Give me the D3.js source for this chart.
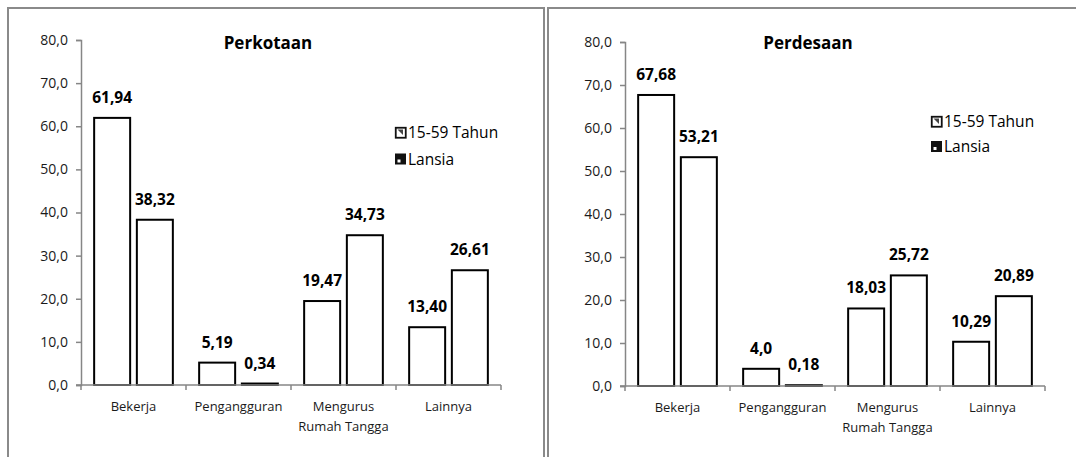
<!DOCTYPE html>
<html>
<head>
<meta charset="utf-8">
<script src="https://cdn.jsdelivr.net/npm/d3@7/dist/d3.min.js"></script>
<style>
  html, body { margin: 0; padding: 0; background: #fff; }
  svg { display: block; }
  text { font-family: "Open Sans", "Noto Sans", sans-serif; }
</style>
</head>
<body>
<svg id="chart" width="1076" height="457"></svg>
<script>
// Status kegiatan utama penduduk (%), perkotaan dan perdesaan
const categories = ["Bekerja", "Pengangguran", "Mengurus Rumah Tangga", "Lainnya"];
const categoryLines = [["Bekerja"], ["Pengangguran"], ["Mengurus", "Rumah Tangga"], ["Lainnya"]];
const seriesNames = ["15-59 Tahun", "Lansia"];

const urbanYouth = [61.94, 5.19, 19.47, 13.40];
const urbanElderly = [38.32, 0.34, 34.73, 26.61];
const ruralYouth = [67.68, 4.0, 18.03, 10.29];
const ruralElderly = [53.21, 0.18, 25.72, 20.89];

// number of decimals shown in each value label
const urbanYouthDecimals = [2, 2, 2, 2];
const urbanElderlyDecimals = [2, 2, 2, 2];
const ruralYouthDecimals = [2, 1, 2, 2];
const ruralElderlyDecimals = [2, 2, 2, 2];

const yTicks = [0, 10, 20, 30, 40, 50, 60, 70, 80];

const panels = [
  { title: "Perkotaan", series: [urbanYouth, urbanElderly], decimals: [urbanYouthDecimals, urbanElderlyDecimals],
    frame: { x: 8, y: 8, w: 536, h: 470 }, plot: { x0: 81, x1: 501, yTop: 40, yBottom: 385 },
    titleX: 268, legendX: 395, legendY: 133, legendGap: 26.5 },
  { title: "Perdesaan", series: [ruralYouth, ruralElderly], decimals: [ruralYouthDecimals, ruralElderlyDecimals],
    frame: { x: 548, y: 8, w: 540, h: 470 }, plot: { x0: 625, x1: 1045, yTop: 42, yBottom: 386 },
    titleX: 808, legendX: 931, legendY: 122, legendGap: 25 }
];

const svg = d3.select("#chart");
const axisGray = "#868686";
const fmt = (v, d) => v.toFixed(d).replace(".", ",");

panels.forEach(p => {
  const g = svg.append("g");

  // panel frame
  g.append("rect")
    .attr("x", p.frame.x).attr("y", p.frame.y)
    .attr("width", p.frame.w).attr("height", p.frame.h)
    .attr("fill", "none").attr("stroke", "#8a8a8a").attr("stroke-width", 2);

  const x = d3.scaleBand().domain(categories).range([p.plot.x0, p.plot.x1]).padding(0);
  const xs = d3.scaleBand().domain(seriesNames).range([0, x.bandwidth()])
    .paddingInner(0.157).paddingOuter(0.308);
  const y = d3.scaleLinear().domain([0, 80]).range([p.plot.yBottom, p.plot.yTop]);

  // y axis
  const yAxis = g.append("g")
    .attr("transform", `translate(${p.plot.x0},0)`)
    .call(d3.axisLeft(y).tickValues(yTicks).tickFormat(d => fmt(d, 1)).tickSize(5).tickPadding(8));
  yAxis.select(".domain").attr("stroke", axisGray).attr("stroke-width", 1.5);
  yAxis.selectAll(".tick line").attr("stroke", axisGray).attr("stroke-width", 1.5);
  yAxis.selectAll(".tick text").attr("fill", "#1a1a1a").style("font-size", "14px")
    .style("font-family", "'Open Sans', sans-serif");

  // bars
  p.series.forEach((vals, si) => {
    g.append("g").selectAll("rect")
      .data(vals)
      .join("rect")
      .attr("x", (d, i) => x(categories[i]) + xs(seriesNames[si]))
      .attr("y", d => y(d))
      .attr("width", xs.bandwidth())
      .attr("height", d => y(0) - y(d))
      .attr("fill", "#fff").attr("stroke", "#000").attr("stroke-width", 2);

    g.append("g").selectAll("text")
      .data(vals)
      .join("text")
      .attr("x", (d, i) => x(categories[i]) + xs(seriesNames[si]) + xs.bandwidth() / 2)
      .attr("y", d => y(d) - 15)
      .attr("text-anchor", "middle")
      .attr("font-weight", "bold").attr("font-size", 15.5).attr("fill", "#000")
      .text((d, i) => fmt(d, p.decimals[si][i]));
  });

  // x axis line with ticks at category boundaries
  const xAxis = g.append("g")
    .attr("transform", `translate(0,${y(0)})`)
    .call(d3.axisBottom(x).tickSize(0).tickFormat(""));
  xAxis.select(".domain").attr("stroke", axisGray).attr("stroke-width", 1.5)
    .attr("d", `M${p.plot.x0 - 5},0H${p.plot.x1}`);
  const bounds = categories.map(c => x(c)).concat([x(categories[categories.length - 1]) + x.bandwidth()]);
  xAxis.selectAll(".bound").data(bounds).join("line")
    .attr("x1", d => d).attr("x2", d => d).attr("y1", 0).attr("y2", 5)
    .attr("stroke", axisGray).attr("stroke-width", 1.5);

  // category labels
  g.append("g").selectAll("text")
    .data(categoryLines)
    .join("text")
    .attr("x", (d, i) => x(categories[i]) + x.bandwidth() / 2)
    .attr("y", y(0) + 26)
    .attr("text-anchor", "middle")
    .attr("font-size", 13).attr("fill", "#1a1a1a")
    .each(function (lines) {
      const t = d3.select(this);
      lines.forEach((ln, k) => {
        t.append("tspan").attr("x", t.attr("x")).attr("dy", k === 0 ? 0 : 19.5).text(ln);
      });
    });

  // title
  g.append("text")
    .attr("x", p.titleX).attr("y", 49)
    .attr("text-anchor", "middle")
    .attr("font-weight", "bold").attr("font-size", 17).attr("fill", "#000")
    .text(p.title);

  // legend
  const leg = g.append("g").attr("transform", `translate(${p.legendX},${p.legendY})`);
  seriesNames.forEach((name, i) => {
    const row = leg.append("g").attr("transform", `translate(0,${i * p.legendGap})`);
    if (i === 0) {
      row.append("rect").attr("x", 0.75).attr("y", -5.25).attr("width", 10).attr("height", 10)
        .attr("fill", "#fff").attr("stroke", "#111").attr("stroke-width", 1.8);
      row.append("path").attr("d", "M2.5,-3.5 L8,-3.5 L8,2 Z").attr("fill", "#444");
    } else {
      row.append("rect").attr("x", 0).attr("y", -6).attr("width", 11).attr("height", 11)
        .attr("fill", "#111");
      row.append("rect").attr("x", 2.5).attr("y", 0).attr("width", 3).attr("height", 3)
        .attr("fill", "#fff");
    }
    row.append("text").attr("x", 13).attr("y", 0).attr("dy", "0.35em")
      .attr("font-size", 15.5).attr("fill", "#000").text(name);
  });
});
</script>
</body>
</html>
